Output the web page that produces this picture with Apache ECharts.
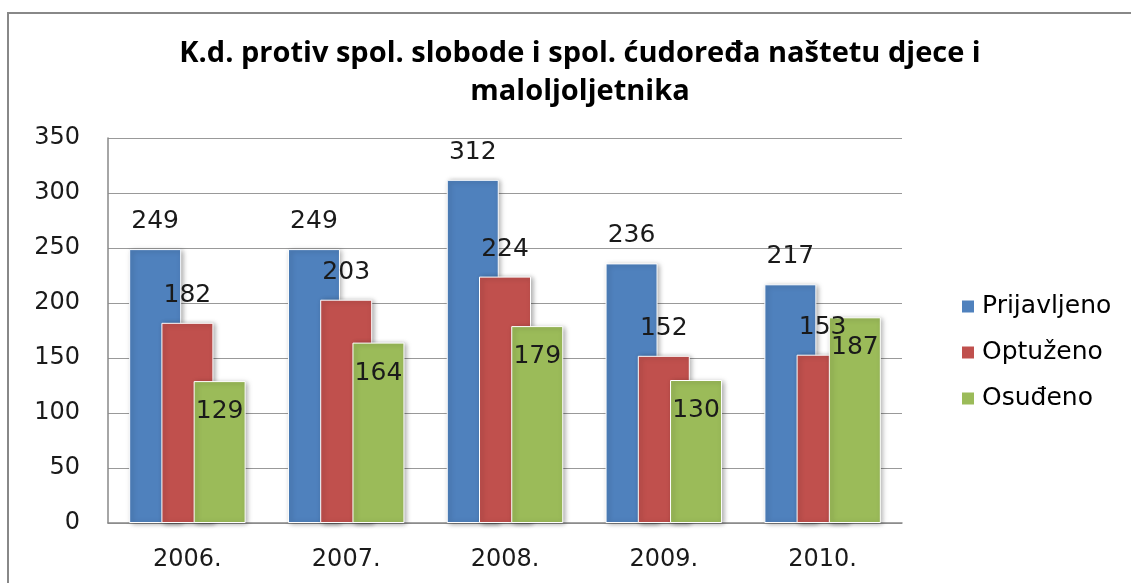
<!DOCTYPE html>
<html>
<head>
<meta charset="utf-8">
<script src="https://cdn.jsdelivr.net/npm/echarts@6/dist/echarts.min.js"></script>
<style>html,body{margin:0;padding:0;background:#fff;}#c{width:1131px;height:583px;}</style>
</head>
<body>
<div id="c"></div>
<script>
var titleText = 'K.d. protiv spol. slobode i spol. ćudoređa naštetu djece i\nmaloljoljetnika';
var categories = ['2006.', '2007.', '2008.', '2009.', '2010.'];
var seriesNames = ['Prijavljeno', 'Optuženo', 'Osuđeno'];
var prijavljeno = [249, 249, 312, 236, 217];
var optuzeno = [182, 203, 224, 152, 153];
var osudeno = [129, 164, 179, 130, 187];
var colors = ['#4F81BD', '#C0504D', '#9BBB59'];

var chart = echarts.init(document.getElementById('c'));
var labelFont = {fontFamily: 'DejaVu Sans', fontSize: 25, color: '#1a1a1a'};
function bar(name, data, color, pos, dist) {
  return {
    name: name, type: 'bar', data: data,
    barWidth: 52, barGap: '-38%',
    itemStyle: {color: color, borderColor: '#fff', borderWidth: 1,
      shadowColor: 'rgba(0,0,0,0.35)', shadowBlur: 5, shadowOffsetX: 2, shadowOffsetY: 1},
    label: Object.assign({show: true, position: pos, distance: dist}, labelFont)
  };
}
chart.setOption({
  animation: false,
  color: colors,
  graphic: [{type: 'rect', shape: {x: 8, y: 13, width: 1300, height: 800},
    style: {fill: 'none', stroke: '#888', lineWidth: 2}, silent: true, z: -1}],
  title: {text: titleText, left: 575, textAlign: 'center', top: 30,
    textStyle: {fontFamily: 'Open Sans', fontWeight: 'bold', fontSize: 29, lineHeight: 38, color: '#000'}},
  legend: {orient: 'vertical', left: 955, top: 289, itemWidth: 14, itemHeight: 14, itemGap: 21,
    icon: 'rect',
    textStyle: {fontFamily: 'DejaVu Sans', fontSize: 25, color: '#000', padding: [0,0,0,2]},
    data: seriesNames},
  grid: {left: 108, right: 229, top: 138, bottom: 60, containLabel: false},
  xAxis: {type: 'category', data: categories,
    axisLine: {lineStyle: {color: '#888', width: 1.5}},
    axisTick: {show: false},
    axisLabel: {fontFamily: 'DejaVu Sans', fontSize: 24, color: '#1a1a1a', margin: 25}},
  yAxis: {type: 'value', min: 0, max: 350, interval: 50,
    axisLine: {show: true, lineStyle: {color: '#888', width: 1.5}},
    axisTick: {show: false},
    splitLine: {lineStyle: {color: '#999', width: 1.2}},
    axisLabel: {fontFamily: 'DejaVu Sans', fontSize: 24, color: '#1a1a1a', margin: 28}},
  series: [
    bar(seriesNames[0], prijavljeno, colors[0], 'top', 15),
    bar(seriesNames[1], optuzeno, colors[1], 'top', 15),
    bar(seriesNames[2], osudeno, colors[2], 'insideTop', 18)
  ]
});
</script>
</body>
</html>
